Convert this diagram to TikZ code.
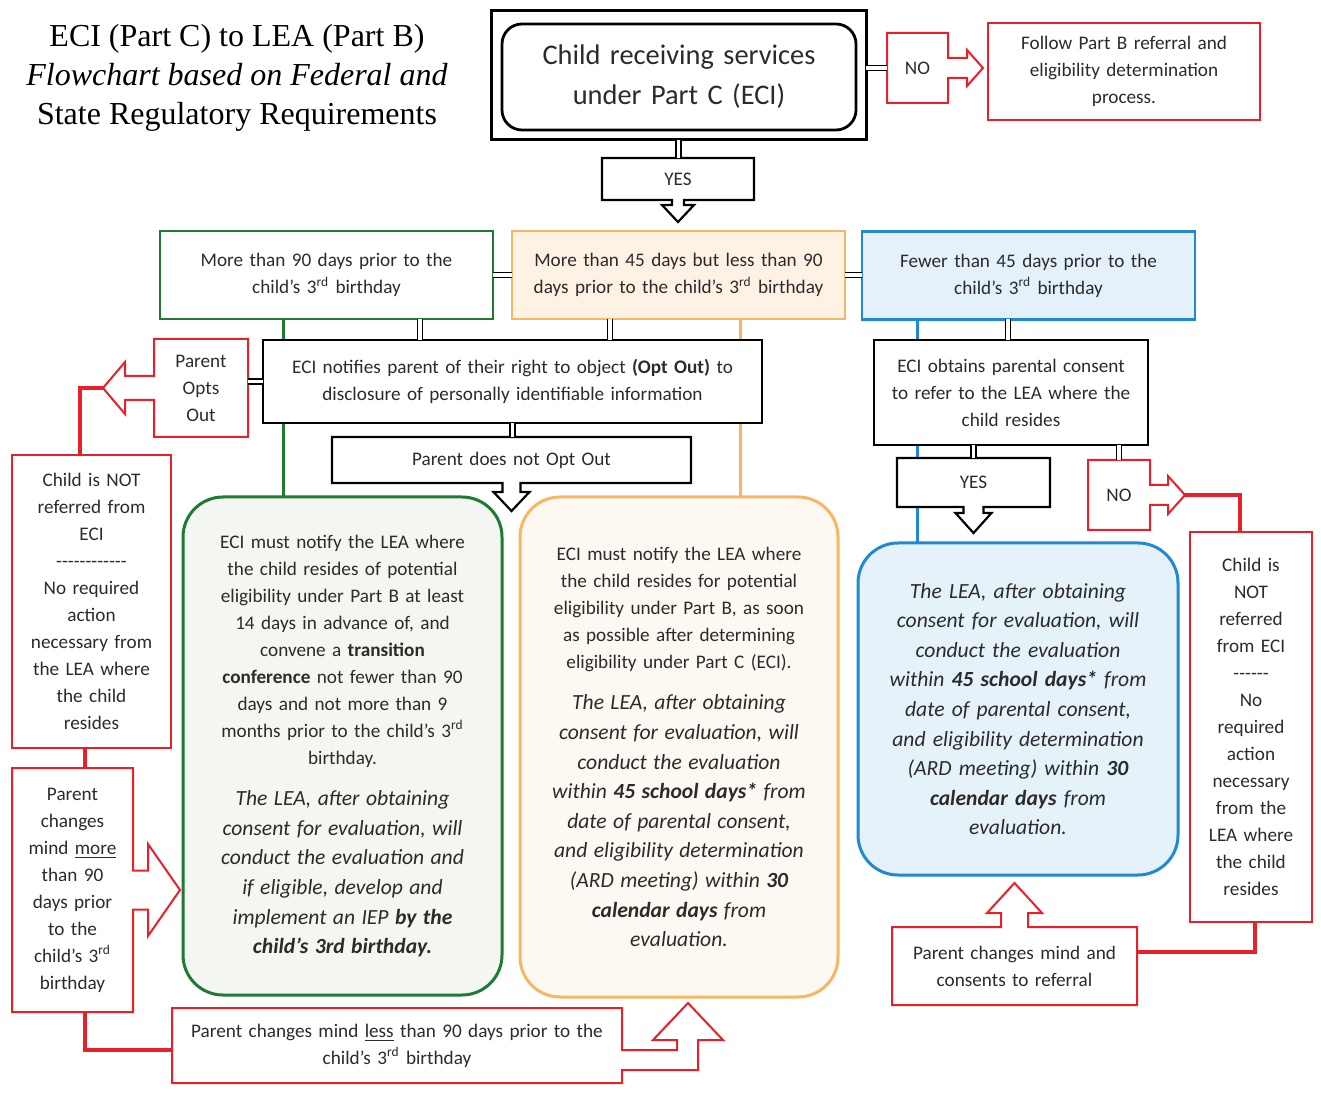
\documentclass[tikz,border=0pt]{standalone}
\usepackage{fontspec}
\setmainfont{Carlito}
\newfontfamily\titlefont{Liberation Serif}
\usepackage{tikz}
\usetikzlibrary{positioning, calc, backgrounds}
\definecolor{inkT}{HTML}{2B2B2B}
\definecolor{alertRed}{HTML}{E8202A}
\definecolor{bandGreen}{HTML}{1E7B34}
\definecolor{bandOrange}{HTML}{F7B760}
\definecolor{bandBlue}{HTML}{2188D2}
\definecolor{fillOrange}{HTML}{FEF2E4}
\definecolor{fillBlue}{HTML}{E4F1FA}
\definecolor{fillGreen}{HTML}{F4F6F1}
\definecolor{fillOrangeLt}{HTML}{FDF8F1}
\definecolor{fillBlueLt}{HTML}{E6F2F9}
\newcommand{\hyph}[1]{\foreach \k in {1,...,#1}{\mbox{-}}}
\newcommand{\smallfont}{\fontsize{9.6}{13.5}\selectfont}
\newcommand{\planfont}{\fontsize{10.8}{14.8}\selectfont\itshape}
\tikzset{
  txt/.style={font=\smallfont, text=inkT, align=center, inner sep=0pt,
    outer sep=0pt},
  titletxt/.style={font=\titlefont\fontsize{16}{19.5}\selectfont,
    text=black, align=center},
  plainbox/.style={txt, rectangle, draw=black, line width=1.1pt,
    fill=white},
  redbox/.style={txt, rectangle, draw=alertRed, line width=1pt,
    fill=white},
  calltxt/.style={txt, rectangle},
  bandbox/.style={txt, rectangle, line width=1.3pt, minimum width=166.5pt,
    minimum height=44pt, text width=160pt},
  bigbox/.style={txt, rectangle, rounded corners=20pt, line width=1.5pt,
    text width=150pt},
  callblack/.style={draw=black, line width=1.1pt, fill=white,
    line join=miter},
  callred/.style={draw=alertRed, line width=1pt, fill=white,
    line join=miter},
  dbl/.style={draw=black, double=white, double distance=1.6pt,
    line width=0.8pt},
  redlink/.style={draw=alertRed, line width=2pt, line join=miter},
  spine/.style={line width=1.5pt},
}

\begin{document}
\begin{tikzpicture}[x=0.5pt, y=-0.5pt]
  \useasboundingbox (0,0) rectangle (1321,1095);

  % heading
  \node[titletxt] (title) at (237,78)
    {ECI (Part C) to LEA (Part B)\\
     \textit{Flowchart based on Federal and}\\
     State Regulatory Requirements};

  % start
  \node[plainbox, line width=1.5pt, minimum width=187.5pt,
    minimum height=64.5pt] (frame) at (678.5,75.5) {};
  \node[plainbox, rounded corners=10pt, line width=1.4pt,
    minimum width=177pt, minimum height=53pt, text width=170pt,
    font=\fontsize{14.2}{20}\selectfont] (start) at (679,77)
    {Child receiving services\\under Part C (ECI)};
  \node[calltxt, minimum width=76pt, minimum height=21pt] (yesA)
    at (678,179) {YES};
  \node[calltxt, minimum width=30.5pt, minimum height=35pt] (noA)
    at (917.5,68) {NO};
  \node[redbox, minimum width=136pt, minimum height=48.5pt,
    text width=130pt] (partB) at (1124,71.5)
    {Follow Part B referral and\\eligibility determination\\process.};

  % timing bands
  \node[bandbox, draw=bandGreen, fill=white] (early) at (326.5,275)
    {More than 90 days prior to the\\child's 3\textsuperscript{rd} birthday};
  \node[bandbox, draw=bandOrange, fill=fillOrange] (mid) at (678.5,275)
    {More than 45 days but less than 90\\days prior to the child's
     3\textsuperscript{rd} birthday};
  \node[bandbox, draw=bandBlue, fill=fillBlue] (late) at (1028.5,275.5)
    {Fewer than 45 days prior to the\\child's 3\textsuperscript{rd} birthday};

  % opt out branch
  \node[plainbox, minimum width=249.5pt, minimum height=41.5pt,
    text width=240pt] (optNote) at (512.5,381.5)
    {ECI notifies parent of their right to object \textbf{(Opt Out)} to\\
     disclosure of personally identifiable information};
  \node[calltxt, minimum width=47pt, minimum height=49pt, text width=44pt]
    (optOut) at (201,388) {Parent\\Opts\\Out};
  \node[calltxt, minimum width=179.5pt, minimum height=23pt,
    text width=170pt] (noOpt) at (511.5,460) {Parent does not Opt Out};
  \node[redbox, minimum width=79.5pt, minimum height=146.5pt,
    text width=76pt] (notRefL) at (91.5,601.5)
    {Child is NOT\\referred from\\ECI\\\hyph{12}\\No required\\action\\
     necessary from\\the LEA where\\the child\\resides};
  \node[calltxt, minimum width=60.5pt, minimum height=122pt,
    text width=58pt] (moreMind) at (72.5,890)
    {Parent\\changes\\mind \underline{more}\\than 90\\days prior\\to the\\
     child's 3\textsuperscript{rd}\\birthday};
  \node[calltxt, minimum width=225pt, minimum height=37.5pt,
    text width=220pt] (lessMind) at (397,1045.5)
    {Parent changes mind \underline{less} than 90 days prior to the\\
     child's 3\textsuperscript{rd} birthday};

  % plans
  \node[bigbox, draw=bandGreen, fill=fillGreen, minimum width=159.5pt,
    minimum height=249pt] (earlyPlan) at (342.5,746)
    {ECI must notify the LEA where\\the child resides of potential\\
     eligibility under Part B at least\\14 days in advance of, and\\
     convene a \textbf{transition}\\\textbf{conference} not fewer than 90\\
     days and not more than 9\\months prior to the child's
     3\textsuperscript{rd}\\birthday.\par
     \vspace{6pt}
     {\planfont The LEA, after obtaining\\consent for evaluation, will\\
     conduct the evaluation and\\if eligible, develop and\\
     implement an IEP \textbf{by the}\\\textbf{child's 3rd birthday.}\par}};
  \node[bigbox, draw=bandOrange, fill=fillOrangeLt, minimum width=159pt,
    minimum height=250pt] (midPlan) at (679,747)
    {ECI must notify the LEA where\\the child resides for potential\\
     eligibility under Part B, as soon\\as possible after determining\\
     eligibility under Part C (ECI).\par
     \vspace{6pt}
     {\planfont The LEA, after obtaining\\consent for evaluation, will\\
     conduct the evaluation\\within \textbf{45 school days*} from\\
     date of parental consent,\\and eligibility determination\\
     (ARD meeting) within \textbf{30}\\\textbf{calendar days} from\\
     evaluation.\par}};

  % late branch
  \node[plainbox, minimum width=137pt, minimum height=52.5pt,
    text width=132pt] (consent) at (1011,392.5)
    {ECI obtains parental consent\\to refer to the LEA where the\\
     child resides};
  \node[calltxt, minimum width=76.5pt, minimum height=24.5pt] (yesB)
    at (973.5,482.5) {YES};
  \node[calltxt, minimum width=31pt, minimum height=35pt] (noB)
    at (1119,495) {NO};
  \node[bigbox, draw=bandBlue, fill=fillBlueLt, minimum width=160pt,
    minimum height=166pt, font=\planfont] (latePlan) at (1018,709)
    {The LEA, after obtaining\\consent for evaluation, will\\
     conduct the evaluation\\within \textbf{45 school days*} from\\
     date of parental consent,\\and eligibility determination\\
     (ARD meeting) within \textbf{30}\\\textbf{calendar days} from\\
     evaluation.};
  \node[redbox, minimum width=61pt, minimum height=195pt,
    text width=58pt] (notRefR) at (1251,727)
    {Child is\\NOT\\referred\\from ECI\\\hyph{6}\\No\\required\\action\\
     necessary\\from the\\LEA where\\the child\\resides};
  \node[calltxt, minimum width=122.5pt, minimum height=39pt,
    text width=118pt] (consentMind) at (1014.5,966)
    {Parent changes mind and\\consents to referral};

  \begin{scope}[on background layer]
    \fill[white] (0,0) rectangle (1321,1095);
    % band lines into the plans
    \draw[spine, bandGreen] ($(early.south)+(-43.5,0)$) coordinate (gA)
      -- (gA |- earlyPlan.north);
    \draw[spine, bandOrange] ($(mid.south)+(61.5,0)$) coordinate (oA)
      -- (oA |- midPlan.north);
    \draw[spine, bandBlue] ($(late.south)+(-111.5,0)$) coordinate (bA)
      -- (bA |- latePlan.north);
    % callout outlines
    \draw[callblack] (yesA.north west) -- (yesA.north east)
      -- (yesA.south east) -- ($(yesA.south)+(6,0)$) -- ++(0,5)
      -- ++(10,0) -- ($(yesA.south)+(0,22)$) -- ($(yesA.south)+(-16,5)$)
      -- ++(10,0) -- ($(yesA.south)+(-6,0)$) -- (yesA.south west) -- cycle;
    \draw[callred] (noA.north west) -- (noA.north east)
      -- ($(noA.east)+(0,-10)$) -- ++(19,0) -- ++(0,-8)
      -- ($(noA.east)+(35,0)$) -- ($(noA.east)+(19,18)$) -- ++(0,-8)
      -- ($(noA.east)+(0,10)$) -- (noA.south east) -- (noA.south west)
      -- cycle;
    \draw[callred] (optOut.north east) -- (optOut.south east)
      -- (optOut.south west) -- ($(optOut.west)+(0,12)$) -- ++(-29,0)
      -- ++(0,14) -- ($(optOut.west)+(-51,0)$) coordinate (optOutTip)
      -- ($(optOut.west)+(-29,-26)$) -- ++(0,14)
      -- ($(optOut.west)+(0,-12)$) -- (optOut.north west) -- cycle;
    \draw[callblack] (noOpt.north west) -- (noOpt.north east)
      -- (noOpt.south east) -- ($(noOpt.south)+(9,0)$) -- ++(0,9)
      -- ++(9,0) -- ($(noOpt.south)+(0,28)$) -- ($(noOpt.south)+(-18,9)$)
      -- ++(9,0) -- ($(noOpt.south)+(-9,0)$) -- (noOpt.south west) -- cycle;
    \draw[callred] (moreMind.north west) -- (moreMind.north east)
      -- ($(moreMind.east)+(0,-19.5)$) -- ++(15,0) -- ++(0,-26.5)
      -- ($(moreMind.east)+(47,0)$) -- ($(moreMind.east)+(15,46)$)
      -- ++(0,-26.5) -- ($(moreMind.east)+(0,19.5)$)
      -- (moreMind.south east) -- (moreMind.south west) -- cycle;
    \draw[callred] (lessMind.south west) -- (lessMind.north west)
      -- (lessMind.north east) -- ($(lessMind.north east)+(0,42)$)
      -- ++(55,0) -- ++(0,-10) -- ++(-24,0)
      -- ($(lessMind.north east)+(66,-5)$)
      -- ($(lessMind.north east)+(101,32)$) -- ++(-25,0) -- ++(0,30)
      -- ($(lessMind.north east)+(0,62)$) -- (lessMind.south east) -- cycle;
    \draw[callblack] (yesB.north west) -- (yesB.north east)
      -- (yesB.south east) -- ($(yesB.south)+(10,0)$) -- ++(0,6)
      -- ++(8,0) -- ($(yesB.south)+(0,26)$) -- ($(yesB.south)+(-18,6)$)
      -- ++(8,0) -- ($(yesB.south)+(-10,0)$) -- (yesB.south west) -- cycle;
    \draw[callred] (noB.north west) -- (noB.north east)
      -- ($(noB.east)+(0,-10)$) -- ++(18,0) -- ++(0,-9)
      -- ($(noB.east)+(35,0)$) coordinate (noBTip)
      -- ($(noB.east)+(18,19)$) -- ++(0,-9)
      -- ($(noB.east)+(0,10)$) -- (noB.south east) -- (noB.south west)
      -- cycle;
    \draw[callred] (consentMind.south west) -- (consentMind.north west)
      -- ($(consentMind.north)+(-13.5,0)$) -- ++(0,-14) -- ++(-14,0)
      -- ($(consentMind.north)+(0,-44)$)
      -- ($(consentMind.north)+(27.5,-14)$) -- ++(-14,0)
      -- ($(consentMind.north)+(13.5,0)$) -- (consentMind.north east)
      -- (consentMind.south east) -- cycle;
  \end{scope}

  % double connectors
  \draw[dbl] (frame.south) -- (frame.south |- yesA.north);
  \draw[dbl] (noA.west -| frame.east) -- (noA.west);
  \draw[dbl] (early.east) -- (mid.west);
  \draw[dbl] (mid.east) -- (mid.east -| late.west);
  \draw[dbl] ($(early.south)+(93.5,0)$) coordinate (dA) -- (dA |- optNote.north);
  \draw[dbl] ($(mid.south)+(-68.5,0)$) coordinate (dB) -- (dB |- optNote.north);
  \draw[dbl] (optNote.west) -- (optNote.west -| optOut.east);
  \draw[dbl] (optNote.south) -- (optNote.south |- noOpt.north);
  \draw[dbl] ($(late.south)+(-20.5,0)$) coordinate (dC) -- (dC |- consent.north);
  \draw[dbl] (yesB.north |- consent.south) -- (yesB.north);
  \draw[dbl] (noB.north |- consent.south) -- (noB.north);

  % red returns
  \draw[redlink] (optOutTip) -| ($(notRefL.north)+(-11.5,0)$);
  \draw[redlink] ($(notRefL.south)+(-6.5,0)$) coordinate (rA)
    -- (rA |- moreMind.north);
  \draw[redlink] ($(moreMind.south)+(12.5,0)$) |- ($(lessMind.west)+(0,4.5)$);
  \draw[redlink] (noBTip) -| ($(notRefR.north)+(-11,0)$);
  \draw[redlink] ($(notRefR.south)+(4,0)$) |- ($(consentMind.east)+(0,-14)$);
\end{tikzpicture}
\end{document}
